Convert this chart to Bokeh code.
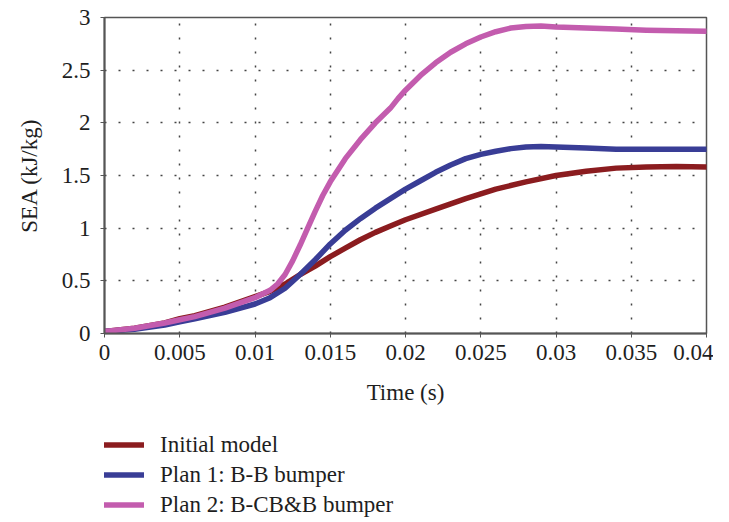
from bokeh.plotting import figure
from bokeh.models import Legend, LegendItem, FixedTicker, Range1d
from bokeh.layouts import column
from bokeh.embed import file_html
from bokeh.resources import INLINE

# ---- data ----
t_initial = [0, 0.002, 0.004, 0.005, 0.006, 0.008, 0.010, 0.011, 0.012, 0.013, 0.014, 0.015,
             0.016, 0.017, 0.018, 0.019, 0.020, 0.022, 0.024, 0.026, 0.028, 0.030, 0.032,
             0.034, 0.036, 0.038, 0.040]
sea_initial = [0.02, 0.05, 0.10, 0.14, 0.17, 0.25, 0.35, 0.40, 0.47, 0.56, 0.64, 0.73,
               0.81, 0.89, 0.96, 1.02, 1.08, 1.18, 1.28, 1.37, 1.44, 1.50, 1.54,
               1.57, 1.58, 1.585, 1.58]

t_plan1 = [0, 0.002, 0.004, 0.005, 0.006, 0.008, 0.010, 0.011, 0.012, 0.013, 0.014, 0.015,
           0.016, 0.017, 0.018, 0.019, 0.020, 0.021, 0.022, 0.023, 0.024, 0.025, 0.026,
           0.027, 0.028, 0.029, 0.030, 0.032, 0.034, 0.036, 0.038, 0.040]
sea_plan1 = [0.02, 0.04, 0.08, 0.11, 0.14, 0.20, 0.28, 0.34, 0.43, 0.56, 0.70, 0.85,
             0.98, 1.09, 1.19, 1.28, 1.37, 1.45, 1.53, 1.60, 1.66, 1.70, 1.73,
             1.755, 1.77, 1.775, 1.77, 1.76, 1.75, 1.75, 1.75, 1.75]

t_plan2 = [0, 0.002, 0.004, 0.005, 0.006, 0.008, 0.010, 0.011, 0.0115, 0.012, 0.0125, 0.013,
           0.0135, 0.014, 0.0145, 0.015, 0.016, 0.017, 0.018, 0.019, 0.0195, 0.020, 0.021,
           0.022, 0.023, 0.024, 0.025, 0.026, 0.027, 0.028, 0.029, 0.030, 0.032, 0.034,
           0.036, 0.038, 0.040]
sea_plan2 = [0.02, 0.05, 0.10, 0.13, 0.16, 0.24, 0.34, 0.41, 0.47, 0.56, 0.69, 0.84,
             1.00, 1.16, 1.31, 1.44, 1.66, 1.84, 2.00, 2.14, 2.23, 2.31, 2.45,
             2.57, 2.67, 2.75, 2.815, 2.865, 2.90, 2.915, 2.92, 2.91, 2.90, 2.89,
             2.88, 2.875, 2.87]

series_names = ["Initial model", "Plan 1: B-B bumper", "Plan 2: B-CB&B bumper"]
series_colors = ["#8b1c1f", "#393d96", "#c35cae"]

x_ticks = [0, 0.005, 0.01, 0.015, 0.02, 0.025, 0.03, 0.035, 0.04]
x_tick_labels = ["0", "0.005", "0.01", "0.015", "0.02", "0.025", "0.03", "0.035", "0.04"]
y_ticks = [0, 0.5, 1, 1.5, 2, 2.5, 3]
y_tick_labels = ["0", "0.5", "1", "1.5", "2", "2.5", "3"]

FONT = "Liberation Serif"
FS = "23px"
TXT = "#1e1e1e"

p = figure(width=713, height=419, output_backend="svg", toolbar_location=None,
           x_range=Range1d(0, 0.04), y_range=Range1d(0, 3),
           min_border_left=104, min_border_right=7, min_border_top=17, min_border_bottom=86,
           x_axis_label="Time (s)", y_axis_label="SEA (kJ/kg)")

p.outline_line_color = "#555555"
p.outline_line_width = 1.5

for ax in (p.xaxis[0], p.yaxis[0]):
    ax.axis_line_color = "#555555"
    ax.axis_line_width = 2
    ax.major_tick_line_color = "#555555"
    ax.major_tick_out = 4
    ax.major_tick_in = 0
    ax.minor_tick_line_color = None
    ax.major_label_text_font = FONT
    ax.major_label_text_font_size = FS
    ax.major_label_text_color = TXT
    ax.axis_label_text_font = FONT
    ax.axis_label_text_font_size = FS
    ax.axis_label_text_font_style = "normal"
    ax.axis_label_text_color = TXT

p.xaxis[0].ticker = FixedTicker(ticks=x_ticks)
p.xaxis[0].major_label_overrides = {t: l for t, l in zip(x_ticks, x_tick_labels)}
p.xaxis[0].major_label_standoff = 7
p.xaxis[0].axis_label_standoff = 17

p.yaxis[0].ticker = FixedTicker(ticks=y_ticks)
p.yaxis[0].major_label_overrides = {t: l for t, l in zip(y_ticks, y_tick_labels)}
p.yaxis[0].major_label_standoff = 10
p.yaxis[0].axis_label_standoff = 17

for g in (p.xgrid[0], p.ygrid[0]):
    g.grid_line_color = "#444444"
    g.grid_line_dash = "2 12"
    g.grid_line_width = 1.5

t_series = [t_initial, t_plan1, t_plan2]
v_series = [sea_initial, sea_plan1, sea_plan2]
for tt, vv, c in zip(t_series, v_series, series_colors):
    p.line(tt, vv, line_color=c, line_width=5.5, line_cap="round", line_join="round")

# legend panel below the chart (same series, drawn outside its view so only the key shows)
lg = figure(width=713, height=99, output_backend="svg", toolbar_location=None,
            x_range=Range1d(1, 2), y_range=Range1d(10, 11),
            min_border_left=104, min_border_right=0, min_border_top=0, min_border_bottom=0)
lg.axis.visible = False
lg.grid.visible = False
lg.outline_line_color = None
items = []
for tt, vv, c, name in zip(t_series, v_series, series_colors, series_names):
    r = lg.line(tt, vv, line_color=c, line_width=5.5, line_cap="round")
    items.append(LegendItem(label=name, renderers=[r]))

legend = Legend(items=items, location=(0, 0), orientation="vertical",
                margin=0, padding=0, border_line_color=None, background_fill_alpha=0,
                glyph_width=40, glyph_height=27, label_height=27, spacing=3,
                label_standoff=16, label_text_font=FONT, label_text_font_size=FS,
                label_text_color=TXT)
lg.add_layout(legend, "center")

layout = column(p, lg, spacing=0)
open("out.html", "w").write(file_html(layout, INLINE))
